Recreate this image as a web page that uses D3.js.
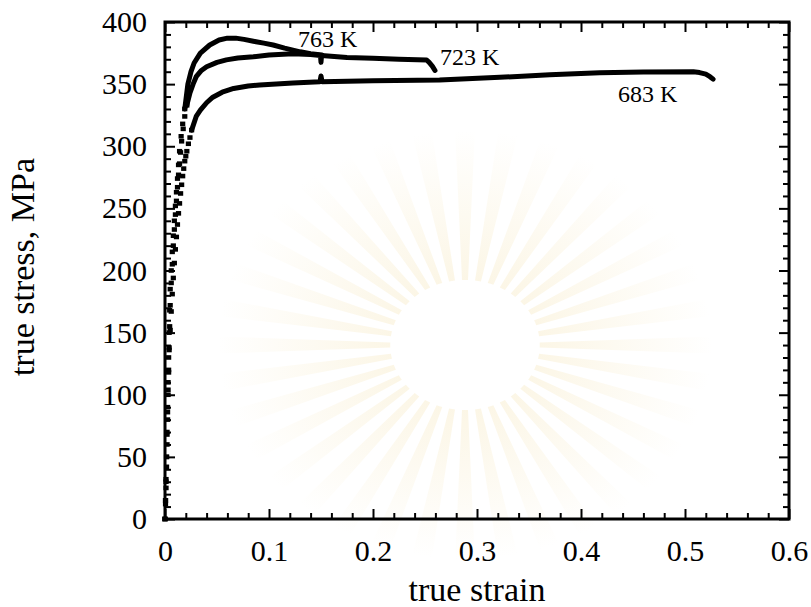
<!DOCTYPE html>
<html>
<head>
<meta charset="utf-8">
<script src="https://cdn.jsdelivr.net/npm/d3@7"></script>
<style>
body { margin: 0; background: #fff; }
text { font-family: "Liberation Serif", "Times New Roman", serif; fill: #000; }
</style>
</head>
<body>
<script>
//Values: [true strain, true stress (MPa)]

//steep loading part, drawn as separate square markers
var rise763 = [[0,0],[0.0005,15],[0.001,30],[0.0015,50],[0.002,70],[0.0025,90],[0.003,110],[0.0035,130],[0.004,150],[0.0045,168],[0.005,185],[0.006,200],[0.007,215],[0.008,228],[0.009,240],[0.010,252],[0.011,263],[0.012,274],[0.013,285],[0.014,296],[0.0155,308],[0.017,318],[0.019,330]];
var rise723 = [[0,0],[0.0005,12],[0.001,25],[0.0015,42],[0.002,60],[0.0025,80],[0.003,100],[0.0035,118],[0.004,138],[0.0045,155],[0.005,172],[0.006,190],[0.007,205],[0.008,220],[0.009,233],[0.010,245],[0.011,256],[0.012,267],[0.013,277],[0.014,286],[0.015,295],[0.016,304],[0.0175,314],[0.019,324],[0.021,333]];
var rise683 = [[0,0],[0.0005,15],[0.001,32],[0.0015,50],[0.002,68],[0.0025,86],[0.003,104],[0.0035,120],[0.004,136],[0.005,152],[0.006,167],[0.007,181],[0.008,194],[0.009,206],[0.010,217],[0.011,227],[0.012,237],[0.013,246],[0.014,254],[0.015,262],[0.016,269],[0.017,276],[0.018,282],[0.019,288],[0.020,292],[0.021,296],[0.0225,302],[0.024,307],[0.0256,313]];

//flow part, dense enough to look like a solid line
var flow763 = [[0.019,330],[0.022,350],[0.025,360],[0.028,367],[0.034,375],[0.043,381.5],[0.052,385.5],[0.060,387],[0.068,387],[0.076,386],[0.085,384.5],[0.095,383],[0.104,381.5],[0.115,379],[0.130,376],[0.140,374.5],[0.151,373.5]];
var flow723 = [[0.021,333],[0.024,343],[0.027,350],[0.030,356],[0.035,361],[0.040,364],[0.050,367.5],[0.059,369.5],[0.070,371],[0.085,372],[0.100,373.5],[0.123,374.5],[0.140,373.8],[0.1495,373],[0.150,367.5],[0.1505,373],[0.175,371.5],[0.200,370.8],[0.225,370],[0.2516,369.4],[0.254,367.5],[0.257,364.5],[0.2596,361]];
var flow683 = [[0.0256,313],[0.030,324],[0.034,329],[0.040,335],[0.046,339.5],[0.055,343.5],[0.066,346.5],[0.080,348.5],[0.091,349.3],[0.123,351],[0.149,352],[0.150,356.5],[0.151,352],[0.200,352.7],[0.264,353.3],[0.322,355.5],[0.370,357.5],[0.418,359.2],[0.460,359.8],[0.508,360],[0.514,359.3],[0.520,358],[0.524,356],[0.527,354]];

//curve labels: text, strain, stress of the text's left baseline
var curveLabels = [
{"text": "763 K", "x": 0.128, "y": 380},
{"text": "723 K", "x": 0.2644, "y": 365.4},
{"text": "683 K", "x": 0.4356, "y": 335.6}];

var xTicks = [0, 0.1, 0.2, 0.3, 0.4, 0.5, 0.6];
var xMinor = [0.02,0.04,0.06,0.08,0.12,0.14,0.16,0.18,0.22,0.24,0.26,0.28,0.32,0.34,0.36,0.38,0.42,0.44,0.46,0.48,0.52,0.54,0.56,0.58];
var yTicks = [0, 50, 100, 150, 200, 250, 300, 350, 400];
var yMinor = [10,20,30,40,60,70,80,90,110,120,130,140,160,170,180,190,210,220,230,240,260,270,280,290,310,320,330,340,360,370,380,390];

var plotLeft = 165, plotRight = 789, plotTop = 22, plotBottom = 519;

var svg = d3.select("body")
			.append("svg")
			.attr("width", 811)
			.attr("height", 607);

svg.append("rect")
	.attr("width", 811)
	.attr("height", 607)
	.attr("fill", "#fff");

//faint watermark sunburst behind the plot, fading outwards
var grad = svg.append("defs")
				.append("radialGradient")
				.attr("id", "wm")
				.attr("gradientUnits", "userSpaceOnUse")
				.attr("cx", 0).attr("cy", 0).attr("r", 215);
grad.append("stop").attr("offset", "0.3").attr("stop-color", "#f3dfa6").attr("stop-opacity", 0.28);
grad.append("stop").attr("offset", "1").attr("stop-color", "#f3dfa6").attr("stop-opacity", 0);

var rays = d3.range(36);
var rayArc = d3.arc()
				.innerRadius(65)
				.outerRadius(215)
				.startAngle(function(d){return d * Math.PI * 2 / 36 - 0.04})
				.endAngle(function(d){return d * Math.PI * 2 / 36 + 0.04});
svg.append("g")
	.attr("transform", "translate(465,345) scale(1.15,1)")
	.selectAll("path")
	.data(rays)
	.enter()
	.append("path")
	.attr("d", rayArc)
	.attr("fill", "url(#wm)");

var x = d3.scaleLinear().domain([0, 0.6]).range([plotLeft, plotRight]);
var y = d3.scaleLinear().domain([0, 400]).range([plotBottom, plotTop]);

//ticks point inwards on all four sides
function styleAxis(g){
	g.select(".domain").remove();
	g.selectAll("line").attr("stroke", "#000").attr("stroke-width", 2);
	g.selectAll("text").style("font-size", "30px").attr("fill", "#000");
}

svg.append("g")
	.attr("transform", "translate(0," + plotBottom + ")")
	.call(d3.axisBottom(x).tickValues(xTicks).tickSize(-10).tickPadding(21).tickFormat(function(d){return d3.format("")(d)}))
	.call(styleAxis);
svg.append("g")
	.attr("transform", "translate(0," + plotBottom + ")")
	.call(d3.axisBottom(x).tickValues(xMinor).tickSize(-6).tickFormat(""))
	.call(styleAxis);
svg.append("g")
	.attr("transform", "translate(0," + plotTop + ")")
	.call(d3.axisTop(x).tickValues(xTicks).tickSize(-10).tickFormat(""))
	.call(styleAxis);
svg.append("g")
	.attr("transform", "translate(0," + plotTop + ")")
	.call(d3.axisTop(x).tickValues(xMinor).tickSize(-6).tickFormat(""))
	.call(styleAxis);

svg.append("g")
	.attr("transform", "translate(" + plotLeft + ",0)")
	.call(d3.axisLeft(y).tickValues(yTicks).tickSize(-10).tickPadding(18))
	.call(styleAxis);
svg.append("g")
	.attr("transform", "translate(" + plotLeft + ",0)")
	.call(d3.axisLeft(y).tickValues(yMinor).tickSize(-6).tickFormat(""))
	.call(styleAxis);
svg.append("g")
	.attr("transform", "translate(" + plotRight + ",0)")
	.call(d3.axisRight(y).tickValues(yTicks).tickSize(-10).tickFormat(""))
	.call(styleAxis);
svg.append("g")
	.attr("transform", "translate(" + plotRight + ",0)")
	.call(d3.axisRight(y).tickValues(yMinor).tickSize(-6).tickFormat(""))
	.call(styleAxis);

//frame
svg.append("rect")
	.attr("x", plotLeft)
	.attr("y", plotTop)
	.attr("width", plotRight - plotLeft)
	.attr("height", plotBottom - plotTop)
	.attr("fill", "none")
	.attr("stroke", "#000")
	.attr("stroke-width", 3);

var line = d3.line()
			.x(function(d){return x(d[0])})
			.y(function(d){return y(d[1])});

[flow763, flow723, flow683].forEach(function(s){
	svg.append("path")
		.datum(s)
		.attr("d", line)
		.attr("fill", "none")
		.attr("stroke", "#000")
		.attr("stroke-width", 5)
		.attr("stroke-linejoin", "round")
		.attr("stroke-linecap", "round");
});

[rise763, rise723, rise683].forEach(function(s){
	svg.append("g")
		.selectAll("rect")
		.data(s)
		.enter()
		.append("rect")
		.attr("x", function(d){return x(d[0]) - 2.6})
		.attr("y", function(d){return y(d[1]) - 2.3})
		.attr("width", 5.2)
		.attr("height", 4.6)
		.attr("fill", "#000");
});

svg.selectAll(".curveLabel")
	.data(curveLabels)
	.enter()
	.append("text")
	.attr("class", "curveLabel")
	.attr("x", function(d){return x(d.x)})
	.attr("y", function(d){return y(d.y)})
	.style("font-size", "24px")
	.text(function(d){return d.text});

svg.append("text")
	.attr("x", (plotLeft + plotRight) / 2)
	.attr("y", 601)
	.attr("text-anchor", "middle")
	.style("font-size", "34px")
	.text("true strain");

svg.append("text")
	.attr("transform", "translate(34,267) rotate(-90)")
	.attr("text-anchor", "middle")
	.style("font-size", "34px")
	.text("true stress, MPa");
</script>
</body>
</html>
